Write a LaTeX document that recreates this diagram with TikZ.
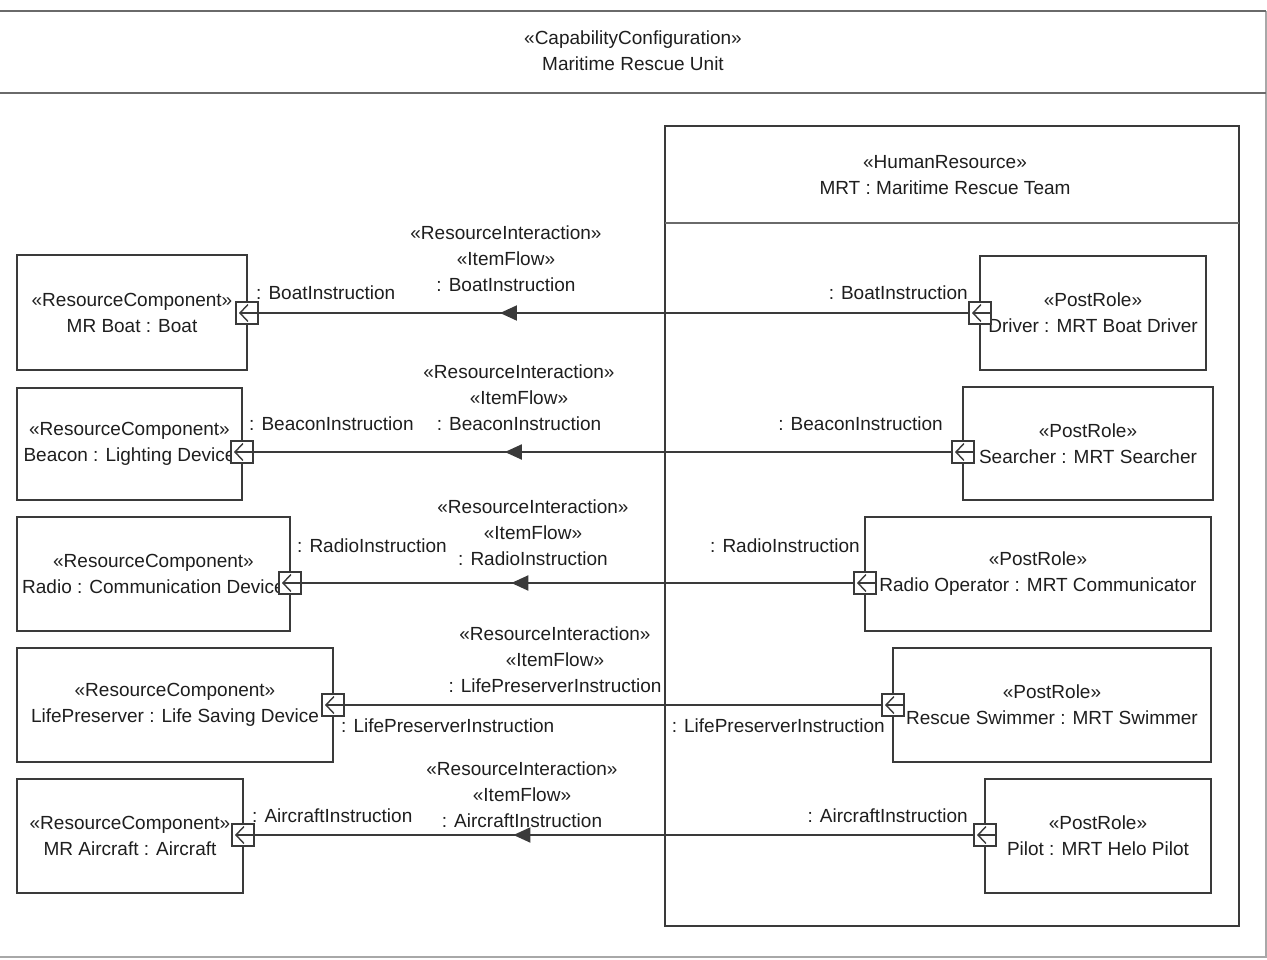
\documentclass[tikz,border=0pt]{standalone}
\usepackage{fontspec}
\setmainfont{Liberation Sans}
\usetikzlibrary{arrows.meta,decorations.markings}
\definecolor{mrline}{HTML}{3a3a3a}
\definecolor{mrframe}{HTML}{6a6a6a}
\definecolor{mrlight}{HTML}{a8a8a8}
\definecolor{mrtext}{HTML}{1e1e1e}

\tikzset{
  block/.style={draw=mrline, line width=2pt, align=center, text=mrtext, inner sep=0pt},
  port/.style={draw=mrline, line width=1.5pt, fill=white, minimum size=22pt, inner sep=0pt,
    path picture={\draw[mrline, line width=1.4pt, -{Straight Barb[length=8pt,width=17pt]}]
      ([xshift=-1pt]path picture bounding box.east) -- ([xshift=3pt]path picture bounding box.west);}},
  flow/.style={draw=mrline, line width=2pt, postaction={decorate},
    decoration={markings, mark=at position #1 with {\arrow{Triangle[length=17pt,width=15pt]}}}},
  plainflow/.style={draw=mrline, line width=2pt},
  lbl/.style={text=mrtext, inner sep=0pt},
  stereo/.style={text=mrtext, align=center, inner sep=0pt},
}

\begin{document}
\begin{tikzpicture}[x=1pt,y=-1pt,font=\fontsize{19}{26}\selectfont]
  \useasboundingbox (0,0) rectangle (1267,959);
  % outer frame
  \draw[mrlight, line width=1.5pt] (1266,11) -- (1266,957) -- (0,957);
  \draw[mrframe, line width=2.8pt] (0,11) -- (1266,11);
  \draw[mrframe, line width=2.8pt] (0,93) -- (1266,93);
  \node[stereo] (title) at (633,51) {«CapabilityConfiguration»\\Maritime Rescue Unit};

  % human resource
  \node[block, minimum width=574pt, minimum height=800pt] (mrt) at (952,526) {};
  \draw[mrframe, line width=2.8pt] (665,223) -- (1239,223);
  \node[stereo] (mrtname) at (945,175) {«HumanResource»\\MRT : Maritime Rescue Team};

  % resource components
  \node[block, minimum width=230pt, minimum height=115pt] (boat) at (132,312.5) {«ResourceComponent»\\MR Boat : Boat};
  \node[block, minimum width=225pt, minimum height=112pt] (beacon) at (129.5,444) {«ResourceComponent»\\Beacon : Lighting Device};
  \node[block, minimum width=273pt, minimum height=114pt] (radio) at (153.5,574) {«ResourceComponent»\\Radio : Communication Device};
  \node[block, minimum width=316pt, minimum height=114pt] (life) at (175,705) {«ResourceComponent»\\LifePreserver : Life Saving Device};
  \node[block, minimum width=226pt, minimum height=114pt] (aircraft) at (130,836) {«ResourceComponent»\\MR Aircraft : Aircraft};

  % post roles
  \node[block, minimum width=226pt, minimum height=114pt] (driver) at (1093,313) {«PostRole»\\Driver : MRT Boat Driver};
  \node[block, minimum width=250pt, minimum height=113pt] (searcher) at (1088,443.5) {«PostRole»\\Searcher : MRT Searcher};
  \node[block, minimum width=346pt, minimum height=114pt] (operator) at (1038,574) {«PostRole»\\Radio Operator : MRT Communicator};
  \node[block, minimum width=318pt, minimum height=114pt] (swimmer) at (1052,705) {«PostRole»\\Rescue Swimmer : MRT Swimmer};
  \node[block, minimum width=226pt, minimum height=114pt] (pilot) at (1098,836) {«PostRole»\\Pilot : MRT Helo Pilot};

  % ports
  \node[port] (pboat) at (247,313) {};
  \node[port] (pbeacon) at (242,452) {};
  \node[port] (pradio) at (290,583) {};
  \node[port] (plife) at (333,705) {};
  \node[port] (paircraft) at (243,835) {};
  \node[port] (pdriver) at (980,313) {};
  \node[port] (psearcher) at (963,452) {};
  \node[port] (poperator) at (865,583) {};
  \node[port] (pswimmer) at (893,705) {};
  \node[port] (ppilot) at (985,835) {};

  % item flows
  \draw[flow=0.66] (pdriver) -- (pboat);
  \draw[flow=0.64] (psearcher) -- (pbeacon);
  \draw[flow=0.62] (poperator) -- (pradio);
  \draw[plainflow] (pswimmer) -- (plife);
  \draw[flow=0.64] (ppilot) -- (paircraft);

  % flow labels
  \node[stereo] (sboat) at (506,259) {«ResourceInteraction»\\«ItemFlow»\\: BoatInstruction};
  \node[stereo] (sbeacon) at (519,398) {«ResourceInteraction»\\«ItemFlow»\\: BeaconInstruction};
  \node[stereo] (sradio) at (533,533) {«ResourceInteraction»\\«ItemFlow»\\: RadioInstruction};
  \node[stereo] (slife) at (555,660) {«ResourceInteraction»\\«ItemFlow»\\: LifePreserverInstruction};
  \node[stereo] (saircraft) at (522,795) {«ResourceInteraction»\\«ItemFlow»\\: AircraftInstruction};

  % port labels
  \node[lbl, anchor=base west] (lboat) at (256,299) {: BoatInstruction};
  \node[lbl, anchor=base east] (ldriver) at (968,299) {: BoatInstruction};
  \node[lbl, anchor=base west] (lbeacon) at (249,430) {: BeaconInstruction};
  \node[lbl, anchor=base east] (lsearcher) at (943,430) {: BeaconInstruction};
  \node[lbl, anchor=base west] (lradio) at (297,552) {: RadioInstruction};
  \node[lbl, anchor=base east] (loperator) at (860,552) {: RadioInstruction};
  \node[lbl, anchor=base west] (llife) at (341,732) {: LifePreserverInstruction};
  \node[lbl, anchor=base east] (lswimmer) at (885,732) {: LifePreserverInstruction};
  \node[lbl, anchor=base west] (laircraft) at (252,822) {: AircraftInstruction};
  \node[lbl, anchor=base east] (lpilot) at (968,822) {: AircraftInstruction};
\end{tikzpicture}
\end{document}
